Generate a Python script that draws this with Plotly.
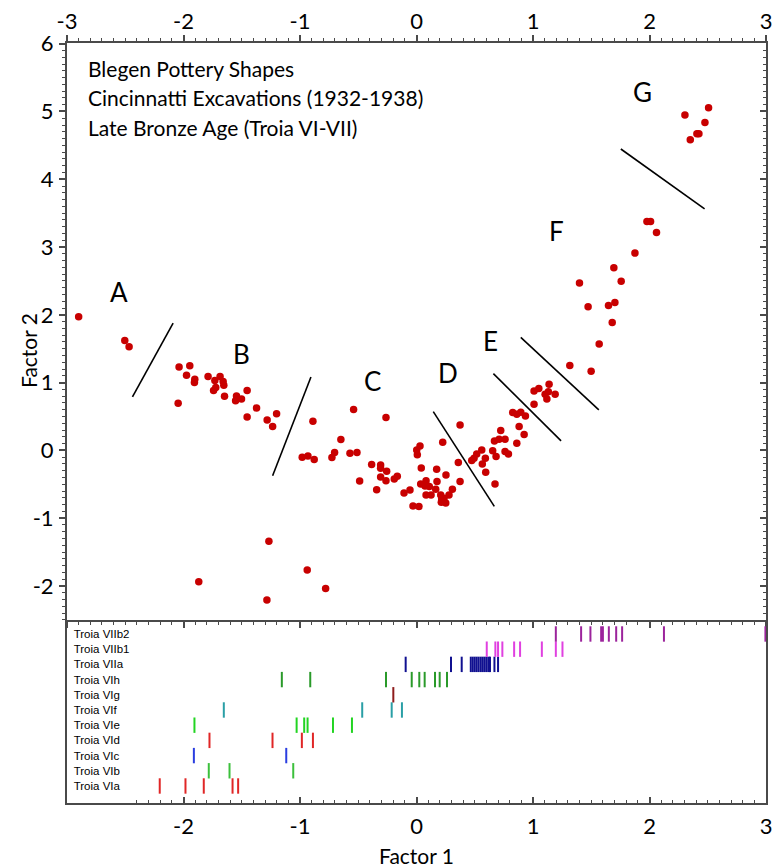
import plotly.graph_objects as go

# ---------------- data ----------------
factor1 = [
    -2.900, -2.504, -2.467,
    -2.038, -1.946, -1.974, -1.903, -1.906, -2.046, -1.789, -1.731, -1.686, -1.660, -1.654,
    -1.723, -1.742, -1.648, -1.545, -1.502, -1.553, -1.454, -1.373, -1.454, -1.282, -1.201, -1.235,
    -0.889, -0.981, -0.932, -0.878, -0.726, -0.703, -0.649, -0.571, -0.511, -0.540, -0.262, -0.488,
    -0.385, -0.308, -0.308, -0.256, -0.308, -0.262, -0.342, -0.191, -0.165, -0.107, -0.056, -0.030, 0.021,
    0.002, 0.030, 0.007, 0.041, 0.036, 0.082, 0.073, 0.110, 0.082, 0.125, 0.173, 0.176, 0.165, 0.225,
    0.253, 0.208, 0.216, 0.236, 0.213, 0.251, 0.279, 0.308, 0.359, 0.374, 0.374,
    0.474, 0.494, 0.517, 0.560, 0.565, 0.591, 0.594, 0.654, 0.683, 0.669, 0.709, 0.723, 0.760, 0.674,
    0.760, 0.789, 0.861, 0.881, 0.924, 0.826, 0.861, 0.895, 0.935,
    1.009, 1.009, 1.050, 1.138, 1.104, 1.119, 1.190, 1.132,
    1.316, 1.499, 1.568, 1.680, 1.648, 1.703, 1.473, 1.757, 1.399, 1.694, 1.875, 1.978, 2.009, 2.060,
    2.304, 2.507, 2.476, 2.407, 2.424, 2.350,
    -1.267, -1.869, -1.284, -0.938, -0.780,
]
factor2 = [
    1.970, 1.621, 1.528,
    1.232, 1.247, 1.110, 1.051, 1.001, 0.697, 1.090, 1.030, 1.090, 1.016, 0.962,
    0.927, 0.883, 0.800, 0.804, 0.760, 0.731, 0.883, 0.627, 0.494, 0.450, 0.539, 0.352,
    0.431, -0.100, -0.081, -0.135, -0.106, -0.032, 0.160, -0.042, -0.032, 0.603, 0.485, -0.451,
    -0.209, -0.214, -0.263, -0.307, -0.391, -0.446, -0.579, -0.421, -0.381, -0.627, -0.583, -0.819, -0.829,
    0.007, 0.066, -0.066, -0.258, -0.494, -0.446, -0.524, -0.534, -0.657, -0.657, -0.278, -0.460, -0.573, 0.121,
    -0.362, -0.657, -0.716, -0.706, -0.765, -0.775, -0.657, -0.573, -0.180, -0.460, 0.376,
    -0.150, -0.116, -0.052, 0.007, -0.199, -0.116, -0.322, -0.007, -0.091, 0.140, 0.165, 0.292, 0.165, -0.494,
    -0.018, -0.052, 0.106, 0.351, 0.233, 0.558, 0.534, 0.564, 0.509,
    0.682, 0.878, 0.912, 0.977, 0.829, 0.760, 0.829, 0.867,
    1.252, 1.169, 1.568, 1.886, 2.137, 2.182, 2.118, 2.497, 2.468, 2.694, 2.911, 3.377, 3.377, 3.215,
    4.948, 5.055, 4.838, 4.672, 4.672, 4.583,
    -1.341, -1.936, -2.207, -1.764, -2.039,
]

periods = ["Troia VIa", "Troia VIb", "Troia VIc", "Troia VId", "Troia VIe", "Troia VIf",
           "Troia VIg", "Troia VIh", "Troia VIIa", "Troia VIIb1", "Troia VIIb2"]

rug_VIa = [-2.204, -1.983, -1.826, -1.579, -1.531]
rug_VIb = [-1.783, -1.605, -1.058]
rug_VIc = [-1.911, -1.118]
rug_VId = [-1.777, -1.236, -0.984, -0.889]
rug_VIe = [-1.906, -1.029, -0.964, -0.935, -0.717, -0.554]
rug_VIf = [-1.654, -0.466, -0.213, -0.125]
rug_VIg = [-0.199]
rug_VIh = [-1.156, -0.912, -0.262, -0.041, 0.024, 0.070, 0.159, 0.199, 0.262]
rug_VIIa = [-0.093, 0.296, 0.388, 0.466, 0.483, 0.500, 0.517, 0.534, 0.552, 0.569, 0.586,
            0.603, 0.620, 0.631, 0.669, 0.700]
rug_VIIb1 = [0.603, 0.677, 0.700, 0.737, 0.838, 0.889, 1.076, 1.196, 1.253]
rug_VIIb2 = [1.196, 1.413, 1.493, 1.585, 1.600, 1.651, 1.714, 1.765, 2.124, 2.995]

rug_values = [rug_VIa, rug_VIb, rug_VIc, rug_VId, rug_VIe, rug_VIf,
              rug_VIg, rug_VIh, rug_VIIa, rug_VIIb1, rug_VIIb2]
rug_colors = ["#e02626", "#3cc03c", "#2a3ee0", "#e02626", "#22d422", "#2a9fa6",
              "#8e1c1c", "#2a9a2a", "#101090", "#e040e0", "#9c249c"]

# group dividers (Factor 1, Factor 2 endpoints)
dividers = [
    ((-2.438, 0.790), (-2.089, 1.879)),
    ((-1.235, -0.374), (-0.906, 1.082)),
    ((0.144, 0.572), (0.668, -0.825)),
    ((0.660, 1.132), (1.241, 0.141)),
    ((0.895, 1.667), (1.565, 0.597)),
    ((1.754, 4.446), (2.473, 3.563)),
]
group_labels = ["A", "B", "C", "D", "E", "F", "G"]
group_x = [-2.556, -1.498, -0.374, 0.271, 0.631, 1.198, 1.937]
group_y = [2.34, 1.42, 1.03, 1.14, 1.61, 3.23, 5.29]

title_lines = ["Blegen Pottery Shapes",
               "Cincinnatti Excavations (1932-1938)",
               "Late Bronze Age (Troia VI-VII)"]

xticks = [-3, -2, -1, 0, 1, 2, 3]
xtick_text = ["-3", "-2", "-1", "0", "1", "2", "3"]
yticks = [-2, -1, 0, 1, 2, 3, 4, 5, 6]
ytick_text = ["-2", "-1", "0", "1", "2", "3", "4", "5", "6"]

# ---------------- figure ----------------
BIG = "Lato, 'Open Sans', sans-serif"
SMALL = "'Liberation Sans', Arial, sans-serif"
AX = "#4a4a4a"

# page body has an 8px offset; plot box in screen pixels: 67..766 x 43..803
OFF = 8
W, H = 784, 868
L, T = 67 - OFF, 43 - OFF
R, B = W - (766 - OFF), H - (803 - OFF)
pw, ph = W - L - R, H - T - B


def px(sx):
    return (sx - 67) / pw


def py(sy):
    return (803 - sy) / ph


split = py(620)

fig = go.Figure()
fig.add_trace(go.Scatter(
    x=factor1, y=factor2, mode="markers", xaxis="x", yaxis="y",
    marker=dict(color="#c80000", size=7.5, line=dict(width=0)),
    showlegend=False, hoverinfo="x+y"))

fig.add_trace(go.Scatter(x=[], y=[], xaxis="x", yaxis="y3", showlegend=False))

for i, (vals, col) in enumerate(zip(rug_values, rug_colors)):
    fig.add_trace(go.Scatter(
        x=vals, y=[i] * len(vals), mode="markers", xaxis="x2", yaxis="y2",
        marker=dict(symbol="line-ns", size=11, line=dict(width=2, color=col)),
        showlegend=False, cliponaxis=False, name=periods[i]))

shapes = []
for (x0, y0), (x1, y1) in dividers:
    shapes.append(dict(type="line", xref="x", yref="y", x0=x0, y0=y0, x1=x1, y1=y1,
                       line=dict(color="black", width=1.6)))

annotations = []
for t, gx, gy in zip(group_labels, group_x, group_y):
    annotations.append(dict(text=t, x=gx, y=gy, xref="x", yref="y", showarrow=False,
                            font=dict(family=BIG, size=26, color="black")))

for k, line in enumerate(title_lines):
    annotations.append(dict(text=line, x=px(86), y=py(68 + 29.5 * k),
                            xref="paper", yref="paper", xanchor="left", yanchor="middle",
                            showarrow=False, font=dict(family=BIG, size=21, color="black")))

annotations.append(dict(text="Factor 2", x=px(28), y=py(351),
                        xref="paper", yref="paper", textangle=-90, showarrow=False,
                        xanchor="center", yanchor="middle",
                        font=dict(family=BIG, size=21, color="black")))
annotations.append(dict(text="Factor 1", x=0.5, y=py(855),
                        xref="paper", yref="paper", showarrow=False,
                        xanchor="center", yanchor="middle",
                        font=dict(family=BIG, size=21, color="black")))

common_x = dict(range=[-3, 3], tickvals=xticks, ticktext=xtick_text, showgrid=False,
                zeroline=False, automargin=False,
                tickfont=dict(family=BIG, size=22, color="black"),
                linecolor=AX, linewidth=2, tickcolor=AX, tickwidth=1.5, ticklen=6)

fig.update_layout(
    width=W, height=H,
    margin=dict(l=L, r=R, t=T, b=B, autoexpand=False),
    paper_bgcolor="white", plot_bgcolor="white",
    shapes=shapes, annotations=annotations,
    xaxis=dict(domain=[0, 1], anchor="y", side="top", ticks="outside", mirror="ticks",
               showline=True, ticklabelstandoff=-3,
               minor=dict(dtick=0.1, ticklen=3, ticks="outside", tickcolor=AX, tickwidth=1.2),
               **common_x),
    xaxis2=dict(domain=[0, 1], anchor="y2", matches="x", ticks="inside", showline=True,
                ticklabelstandoff=3,
                minor=dict(dtick=0.1, ticklen=3, ticks="inside", tickcolor=AX, tickwidth=1.2),
                **common_x),
    yaxis=dict(domain=[split, 1], anchor="x", range=[-2.502, 6.01], tickvals=yticks,
               ticktext=ytick_text, automargin=False,
               ticks="outside", ticklen=6, tickwidth=1.5, tickcolor=AX,
               minor=dict(dtick=0.1, ticklen=3, ticks="outside", tickcolor=AX, tickwidth=1.2),
               showline=True, mirror=True, linecolor=AX, linewidth=2,
               showgrid=False, zeroline=False, ticklabelstandoff=1,
               tickfont=dict(family=BIG, size=22, color="black")),
    yaxis3=dict(overlaying="y", anchor="x", side="right", matches="y", range=[-2.502, 6.01],
                tickvals=yticks, ticks="inside", ticklen=6, tickwidth=1.5, tickcolor=AX,
                automargin=False,
                minor=dict(dtick=0.1, ticklen=3, ticks="inside", tickcolor=AX, tickwidth=1.2),
                showticklabels=False, showline=False, showgrid=False, zeroline=False),
    yaxis2=dict(domain=[0, split], anchor="x2", range=[-1.12, 10.92],
                tickvals=list(range(len(periods))), ticktext=periods, automargin=False,
                ticks="", ticklabelposition="inside", ticklabelstandoff=6,
                tickfont=dict(family=SMALL, size=11.5, color="black"),
                showline=True, mirror=True, linecolor=AX, linewidth=2,
                showgrid=False, zeroline=False),
)

fig.write_html("out.html")
